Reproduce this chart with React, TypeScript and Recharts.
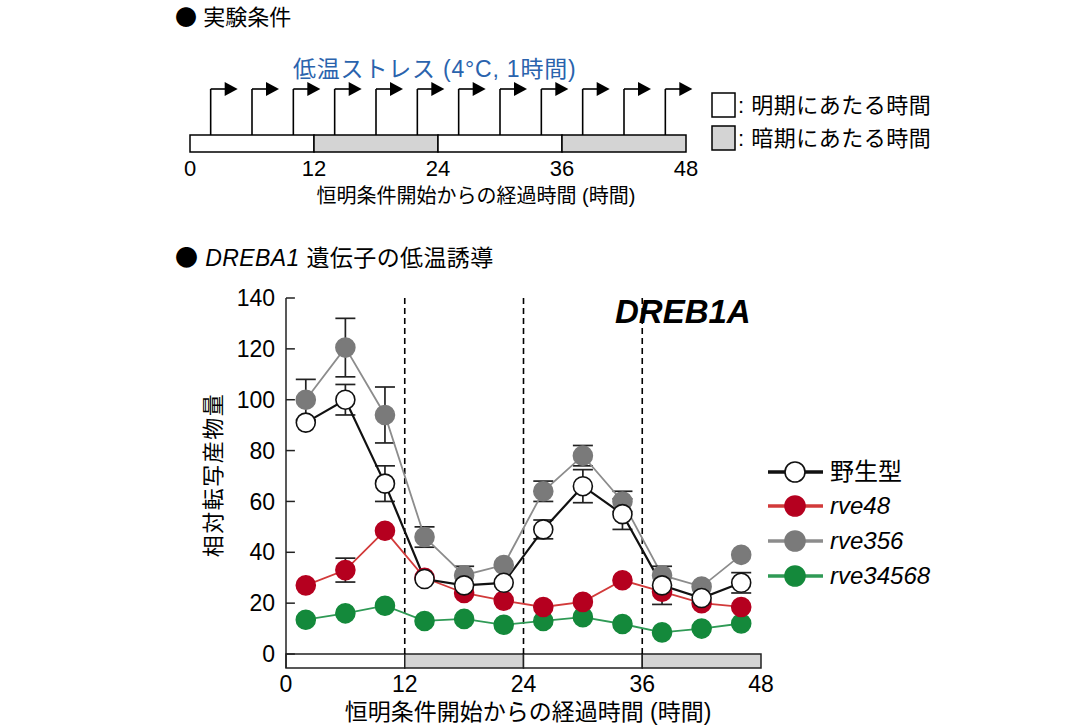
import React from "react"
import {
  ComposedChart,
  Line,
  Scatter,
  XAxis,
  YAxis,
  ErrorBar,
  ReferenceArea,
  ReferenceLine,
} from "recharts"

// sampling times (h after start of continuous light)
const times = [2, 6, 10, 14, 18, 22, 26, 30, 34, 38, 42, 46]

// DREB1A relative transcript levels
const wildType = [91, 100, 67, 29.5, 27, 28, 49, 66, 55, 27, 22, 28]
const wildTypeErr = [0, 6, 7, 0, 0, 0, 3.7, 6.5, 6, 7.5, 0, 4]
const rve48 = [27, 33, 48.5, 30, 24, 21, 18.5, 20.5, 29, 24.5, 20, 18.5]
const rve48Err = [0, 4.7, 0, 0, 0, 0, 0, 0, 0, 0, 0, 0]
const rve356 = [100, 120.5, 94, 46, 31, 35, 64, 78, 60, 31, 26.5, 39]
const rve356Err = [8, 11.5, 11, 4, 3.5, 0, 4, 4, 4, 0, 0, 0]
const rve34568 = [13.5, 16, 19, 13, 13.8, 11.5, 13, 14.5, 11.8, 8.5, 10, 12]

const hourTicks = [0, 12, 24, 36, 48]
const yTicks = [0, 20, 40, 60, 80, 100, 120, 140]

// subjective day / night segments of the time bar
const phases = [
  { from: 0, to: 12, dark: false },
  { from: 12, to: 24, dark: true },
  { from: 24, to: 36, dark: false },
  { from: 36, to: 48, dark: true },
]
const nightBoundaries = [12, 24, 36]

const series = [
  { key: "rve34568", label: "rve34568", italic: true, line: "#2f9a55", fill: "#14893b", stroke: "#14893b" },
  { key: "rve48", label: "rve48", italic: true, line: "#d23a3a", fill: "#b5001f", stroke: "#b5001f" },
  { key: "rve356", label: "rve356", italic: true, line: "#8c8c8c", fill: "#7a7a7a", stroke: "#7a7a7a" },
  { key: "wt", label: "野生型", italic: false, line: "#111111", fill: "#ffffff", stroke: "#111111" },
]
const legendOrder = ["wt", "rve48", "rve356", "rve34568"]

const rows = times.map((t, i) => ({
  t,
  wt: wildType[i],
  wtErr: wildTypeErr[i],
  rve48: rve48[i],
  rve48Err: rve48Err[i],
  rve356: rve356[i],
  rve356Err: rve356Err[i],
  rve34568: rve34568[i],
}))

const stressPoints = times.map((t) => ({ t, y: 10 }))

const FONT = '"Liberation Sans", Arial, "Noto Sans CJK JP", sans-serif'
const CJK = '"Noto Sans CJK JP", sans-serif'
const BAR_LOW = -5.5

// horizontal flag of a cold-stress arrow, drawn at the top of its shaft
const ArrowHead = (props: any) => {
  const { cx, cy } = props
  return (
    <g>
      <line x1={cx} y1={cy} x2={cx + 15} y2={cy} stroke="#000" strokeWidth={1.6} />
      <path d={`M${cx + 14},${cy - 7} L${cx + 27},${cy} L${cx + 14},${cy + 7} Z`} fill="#000" />
    </g>
  )
}

const TopDiagram = () => (
  <ComposedChart
    width={1086}
    height={220}
    data={stressPoints}
    margin={{ top: 89, right: 400, bottom: 38, left: 190 }}
    style={{ position: "absolute", left: 0, top: 0 }}
  >
    <XAxis
      type="number"
      dataKey="t"
      domain={[0, 48]}
      ticks={hourTicks}
      axisLine={false}
      tickLine={false}
      height={30}
      tick={{ fontSize: 22, fill: "#000", fontFamily: FONT }}
    />
    <YAxis type="number" dataKey="y" domain={[0, 10]} hide />
    {phases.map((p) => (
      <ReferenceArea
        key={p.from}
        x1={p.from}
        x2={p.to}
        y1={0}
        y2={2.7}
        fill={p.dark ? "#d4d4d4" : "#ffffff"}
        fillOpacity={1}
        stroke="#000"
        strokeWidth={1.5}
      />
    ))}
    {times.map((t) => (
      <ReferenceLine
        key={t}
        segment={[{ x: t, y: 2.7 }, { x: t, y: 10 }]}
        stroke="#000"
        strokeWidth={1.6}
      />
    ))}
    <Scatter dataKey="y" shape={ArrowHead} isAnimationActive={false} />
  </ComposedChart>
)

const MainChart = () => (
  <ComposedChart
    width={1086}
    height={725}
    data={rows}
    margin={{ top: 298, right: 325, bottom: 27, left: 226 }}
    style={{ position: "absolute", left: 0, top: 0 }}
  >
    <XAxis
      type="number"
      dataKey="t"
      domain={[0, 48]}
      ticks={hourTicks}
      axisLine={false}
      tickLine={false}
      height={30}
      tick={{ fontSize: 23, fill: "#000", fontFamily: FONT }}
    />
    <YAxis
      type="number"
      domain={[BAR_LOW, 140]}
      ticks={yTicks}
      width={60}
      tickLine={false}
      tickMargin={5}
      axisLine={{ stroke: "#222", strokeWidth: 1.5 }}
      tick={{ fontSize: 23, fill: "#000", fontFamily: FONT }}
    />
    {yTicks.map((v) => (
      <ReferenceLine key={v} segment={[{ x: 0, y: v }, { x: 0.9, y: v }]} stroke="#222" strokeWidth={1.5} />
    ))}
    {nightBoundaries.map((h) => (
      <ReferenceLine
        key={h}
        segment={[{ x: h, y: 0 }, { x: h, y: 140 }]}
        stroke="#000"
        strokeWidth={1.6}
        strokeDasharray="6 4"
      />
    ))}
    {phases.map((p) => (
      <ReferenceArea
        key={p.from}
        x1={p.from}
        x2={p.to}
        y1={BAR_LOW}
        y2={0}
        fill={p.dark ? "#d4d4d4" : "#ffffff"}
        fillOpacity={1}
        stroke="#222"
        strokeWidth={1.5}
      />
    ))}
    {series.map((s) => (
      <Line
        key={s.key}
        dataKey={s.key}
        stroke={s.line}
        strokeWidth={s.key === "wt" ? 2.2 : 1.8}
        dot={{ r: 9.5, fill: s.fill, stroke: s.stroke, strokeWidth: 1.6 }}
        activeDot={false}
        isAnimationActive={false}
      >
        {s.key !== "rve34568" && (
          <ErrorBar dataKey={`${s.key}Err`} direction="y" width={10} stroke="#222" strokeWidth={1.7} />
        )}
      </Line>
    ))}
  </ComposedChart>
)

const Overlay = () => {
  const legendY = [472, 506, 541, 576]
  return (
    <svg
      width={1086}
      height={725}
      style={{ position: "absolute", left: 0, top: 0, pointerEvents: "none" }}
      fontFamily={FONT}
    >
      <text x={175} y={25} fontSize={22} fill="#000">
        <tspan fontFamily={CJK}>●</tspan> 実験条件
      </text>
      <text x={293} y={77} fontSize={23} letterSpacing={0.8} fill="#2a63ad">
        低温ストレス (4°C, 1時間)
      </text>
      <rect x={712} y={93} width={23} height={24} fill="#fff" stroke="#000" strokeWidth={1.5} />
      <text x={738} y={113} fontSize={22} letterSpacing={0.5} fill="#000">
        : 明期にあたる時間
      </text>
      <rect x={712} y={126} width={23} height={24} fill="#d4d4d4" stroke="#000" strokeWidth={1.5} />
      <text x={738} y={146} fontSize={22} letterSpacing={0.5} fill="#000">
        : 暗期にあたる時間
      </text>
      <text x={476} y={203} fontSize={20} fill="#000" textAnchor="middle">
        恒明条件開始からの経過時間 (時間)
      </text>

      <text x={175} y={266} fontSize={23} letterSpacing={0.4} fill="#000">
        <tspan fontFamily={CJK}>●</tspan> <tspan fontStyle="italic">DREBA1</tspan> 遺伝子の低温誘導
      </text>
      <text x={615} y={323} fontSize={33} fontWeight="bold" fontStyle="italic" fill="#000">
        DREB1A
      </text>
      <text
        x={0}
        y={0}
        fontSize={22}
        letterSpacing={1.5}
        fill="#000"
        textAnchor="middle"
        transform="translate(221,475) rotate(-90)"
      >
        相対転写産物量
      </text>
      <text x={528} y={720} fontSize={23} fill="#000" textAnchor="middle">
        恒明条件開始からの経過時間 (時間)
      </text>

      {legendOrder.map((k, i) => {
        const s = series.find((d) => d.key === k)!
        const y = legendY[i]
        return (
          <g key={k}>
            <line x1={768} y1={y} x2={823} y2={y} stroke={s.line} strokeWidth={3.5} />
            <circle cx={795} cy={y} r={10} fill={s.fill} stroke={s.stroke} strokeWidth={1.6} />
            <text x={830} y={y + 8} fontSize={24} fontStyle={s.italic ? "italic" : "normal"} fill="#000">
              {s.label}
            </text>
          </g>
        )
      })}
    </svg>
  )
}

export default function App() {
  return (
    <div
      style={{
        position: "absolute",
        left: 0,
        top: 0,
        width: 1086,
        height: 725,
        background: "#fff",
        fontFamily: FONT,
      }}
    >
      <TopDiagram />
      <MainChart />
      <Overlay />
    </div>
  )
}
